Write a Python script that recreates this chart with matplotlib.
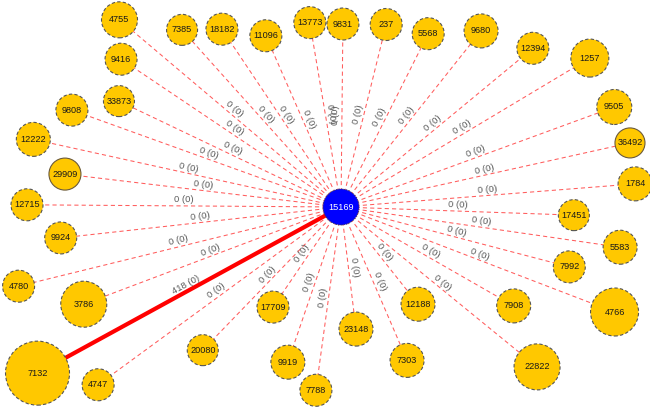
import math
import matplotlib.pyplot as plt
from matplotlib.patches import Circle

# hub and its neighbours (ordered counter-clockwise from the east)
hub = "15169"
nodes = ["1784", "36492", "9505", "1257", "12394", "9680", "5568", "237",
         "9831", "13773", "11096", "18182", "7385", "4755", "9416", "33873",
         "9808", "12222", "29909", "12715", "9924", "4780", "3786", "7132",
         "4747", "20080", "17709", "9919", "7788", "23148", "7303", "12188",
         "22822", "7908", "4766", "7992", "5583", "17451"]
# edge label "a (b)"
traffic = [0] * len(nodes)
traffic[nodes.index("7132")] = 418
traffic_back = [0] * len(nodes)
# node size as drawn (radius, px)
node_size = [17, 15, 17.5, 19, 16, 17, 16, 16,
             16, 16, 16, 16, 15.5, 18, 16, 15.5,
             16, 17, 16, 16, 16, 16, 23, 32,
             16, 15.5, 16, 17, 16, 17, 17, 17,
             23, 17, 24, 16, 17, 15.5]
hub_size = 18
solid_border = {"29909", "36492"}

# layout: polar position around the hub (deg, px)
angle = [4.5, 12.5, 20.1, 30.9, 39.6, 51.5, 63.3, 76.1,
         89.4, 99.6, 113.7, 123.8, 131.9, 139.8, 146.1, 154.5,
         160.2, 167.6, 173.2, 179.6, 186.3, 193.8, 200.7, 208.7,
         216.2, 226.0, 235.8, 251.1, 262.2, 277.0, 293.3, 308.4,
         320.8, 330.2, 339.0, 345.3, 351.8, 358.0]
dist = [295, 296, 291, 290, 249, 225, 194, 188,
        183, 187, 187, 214, 238, 290, 265, 246,
        286, 315, 278, 314, 282, 332, 275, 346,
        301, 199, 121, 164, 185, 123, 167, 124,
        253, 199, 293, 236, 282, 233]

FONT = "Liberation Sans"

fig = plt.figure(figsize=(6.5, 4.07), dpi=100)
ax = fig.add_axes([0, 0, 1, 1])
ax.set_xlim(-341, 309)
ax.set_ylim(-200, 207)
ax.axis("off")

for name, a, d, r, w, wb in zip(nodes, angle, dist, node_size, traffic, traffic_back):
    x = d * math.cos(math.radians(a))
    y = d * math.sin(math.radians(a))
    if w > 0:
        ax.plot([0, x], [0, y], color="#ff0000", lw=3.0, solid_capstyle="butt", zorder=1)
    else:
        ax.plot([0, x], [0, y], color="#ff4040", lw=0.75, ls=(0, (4, 3)), alpha=0.85, zorder=1)

    # edge label at midpoint, along the edge
    rot = a
    while rot > 90:
        rot -= 180
    while rot <= -90:
        rot += 180
    nx = -math.sin(math.radians(rot))
    ny = math.cos(math.radians(rot))
    ax.text(x / 2 + 1.5 * nx, y / 2 + 1.5 * ny, f"{w} ({wb})", rotation=rot,
            rotation_mode="anchor", ha="center", va="bottom",
            fontsize=6.8, color="#5a5a5a", family=FONT, zorder=2)

    ls = "-" if name in solid_border else (0, (3, 2))
    ec = "#6b5a3a" if name in solid_border else "#555555"
    ax.add_patch(Circle((x, y), r, facecolor="#ffc800", edgecolor=ec,
                        lw=0.8, ls=ls, zorder=3))
    ax.text(x, y, name, ha="center", va="center", fontsize=6.6,
            color="#1a1a1a", family=FONT, zorder=4)

ax.add_patch(Circle((0, 0), hub_size, facecolor="#0000ff", edgecolor="#333366",
                    lw=0.6, ls=(0, (2, 1)), zorder=3))
ax.text(0, 0, hub, ha="center", va="center", fontsize=6.6, color="white",
        family=FONT, zorder=4)

fig.savefig("out.png", dpi=100)
